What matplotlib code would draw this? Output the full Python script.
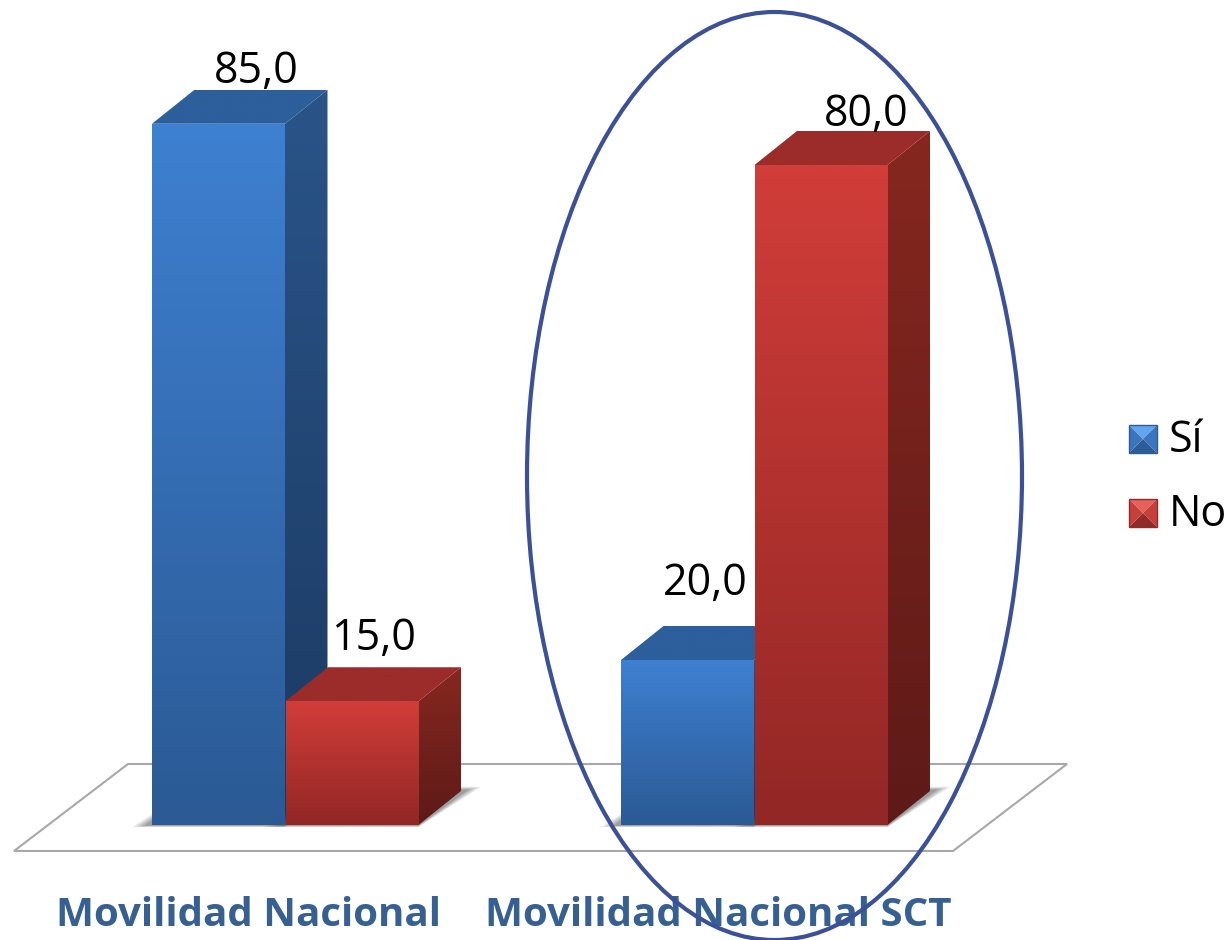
import numpy as np
import matplotlib
matplotlib.use('Agg')
import matplotlib.pyplot as plt
from matplotlib.colors import to_rgb
from matplotlib.patches import Ellipse, Polygon

categorias = ['Movilidad Nacional', 'Movilidad Nacional SCT']
si = [85.0, 20.0]
no = [15.0, 80.0]
series = ['Sí', 'No']

plt.rcParams['font.family'] = ['Open Sans', 'DejaVu Sans']

W, H = 1230, 940
fig = plt.figure(figsize=(W/100, H/100), dpi=100)
ax = fig.add_axes([0, 0, 1, 1])

# escala: categoria 0 en x=285 px, 469 px entre grupos, valor 0 en y=825 px, 8.25 px por unidad
ax.set_xlim(-285/469, (W-285)/469)
ax.set_ylim((825-H)/8.25, 825/8.25)
ax.axis('off')

def px(x, y):
    return (x-285)/469, (825-y)/8.25

ancho = 133/469
dx, dy = 42.5/469, 34/8.25

azul = dict(frente=('#3e80d1', '#2b5a95'), arriba=('#2c5f9c', '#2c5f9c'), lado=('#2a5488', '#1b3a62'))
rojo = dict(frente=('#d13d39', '#922725'), arriba=('#9b2c2a', '#9b2c2a'), lado=('#86271f', '#5e1a18'))

def degradado(poly, c1, c2, z):
    xs, ys = zip(*poly)
    n = 64
    c1, c2 = np.array(to_rgb(c1)), np.array(to_rgb(c2))
    t = np.linspace(0, 1, n)[:, None, None]
    img = c1*(1-t) + c2*t
    im = ax.imshow(img, extent=[min(xs), max(xs), min(ys), max(ys)], origin='upper',
                   aspect='auto', zorder=z, interpolation='bilinear')
    p = Polygon(poly, closed=True, transform=ax.transData, facecolor='none', edgecolor='none')
    ax.add_patch(p)
    im.set_clip_path(p)

def barra(x0, v, col, z):
    # sombra sobre el piso
    for k, a in zip([1.0, 0.8, 0.6, 0.4], [0.14, 0.18, 0.22, 0.28]):
        sx = 20*k
        ax.add_patch(Polygon([(x0-sx/469, -0.25*k), (x0+ancho, -0.25*k),
                              (x0+ancho+dx+sx/469, dy+0.5*k), (x0+dx, dy+0.5*k)], closed=True,
                             facecolor='#606060', edgecolor='none', alpha=a, zorder=z-1))
    # cara lateral y superior
    degradado([(x0+ancho, 0), (x0+ancho+dx, dy), (x0+ancho+dx, v+dy), (x0+ancho, v)],
              col['lado'][0], col['lado'][1], z)
    degradado([(x0, v), (x0+ancho, v), (x0+ancho+dx, v+dy), (x0+dx, v+dy)],
              col['arriba'][0], col['arriba'][1], z)
    # frente
    b = ax.bar(x0, v, ancho, align='edge', color=col['frente'][1], linewidth=0, zorder=z)
    degradado([(x0, 0), (x0+ancho, 0), (x0+ancho, v), (x0, v)],
              col['frente'][0], col['frente'][1], z+0.1)
    return b

# piso
ax.add_patch(Polygon([px(14, 851), px(953, 851), px(1067, 764), px(128, 764)], closed=True,
                     facecolor='white', edgecolor='#a8a8a8', linewidth=1.5, zorder=1))

for i in range(len(categorias)):
    barra(i-ancho, si[i], azul, 3+i*2)
    barra(i+0.5/469, no[i], rojo, 4+i*2)

# etiquetas de valores
pos_si = [(256, 72), (705, 584)]
pos_no = [(374, 639), (866, 115)]
for i in range(len(categorias)):
    ax.text(*px(*pos_si[i]), f'{si[i]:.1f}'.replace('.', ','), fontsize=31, color='black',
            ha='center', va='center', zorder=10)
    ax.text(*px(*pos_no[i]), f'{no[i]:.1f}'.replace('.', ','), fontsize=31, color='black',
            ha='center', va='center', zorder=10)

# categorias
for i, c in enumerate(categorias):
    cx = [249, 718][i]
    ax.text(*px(cx, 916), c, fontsize=29, fontweight='bold', color='#376092',
            ha='center', va='center', zorder=10)

# elipse
ax.add_patch(Ellipse(px(774.5, 476), 495/469, 928/8.25, facecolor='none', edgecolor='#3b5096',
                     linewidth=3, zorder=11))

# leyenda
def cuadro(x0, y0, claro, medio, oscuro, borde):
    s = 28
    c = (x0+s/2, y0+s/2)
    a, b, d, e = (x0, y0), (x0+s, y0), (x0+s, y0+s), (x0, y0+s)
    caras = [([a, b, c], claro), ([b, d, c], medio), ([d, e, c], oscuro), ([e, a, c], medio)]
    for pts, color in caras:
        ax.add_patch(Polygon([px(*p) for p in pts], closed=True, facecolor=color,
                             edgecolor='none', zorder=12))
    ax.add_patch(Polygon([px(*p) for p in [a, b, d, e]], closed=True, facecolor='none',
                         edgecolor=borde, linewidth=1, zorder=13))

cuadro(1129, 425, '#62a5f0', '#3a75bd', '#2c5c98', '#2f5d93')
cuadro(1129, 499, '#e8605c', '#c53f3b', '#8f2b29', '#8e2c2a')
ax.text(*px(1169, 441), series[0], fontsize=31, ha='left', va='center', color='black', zorder=12)
ax.text(*px(1169, 515), series[1], fontsize=31, ha='left', va='center', color='black', zorder=12)

ax.set_xlim(-285/469, (W-285)/469)
ax.set_ylim((825-H)/8.25, 825/8.25)
fig.savefig('out.png', dpi=100)
